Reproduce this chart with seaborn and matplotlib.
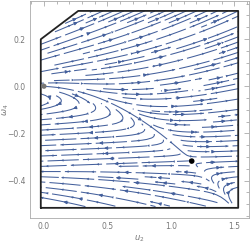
import numpy as np
import matplotlib
matplotlib.use("Agg")
import matplotlib.pyplot as plt
from matplotlib.path import Path
from matplotlib.patches import FancyArrowPatch
import seaborn as sns

# ---- data ----
boundary_u2 = [-0.025, 1.53, 1.53, 0.27, -0.025, -0.025]
boundary_w4 = [-0.515, -0.515, 0.319, 0.319, 0.199, -0.515]
saddle_pt = [1.164, -0.317]        # black point
source_pt = [0.0, 0.0]             # gray point
sep_coef = [-0.020, -0.217]        # stable manifold: w4 = a*u2 + b*u2^2
unstable_slope = 0.02
xticks = [0.0, 0.5, 1.0, 1.5]
yticks = [-0.4, -0.2, 0.0, 0.2]

sns.set_theme(style="white")
plt.rcParams['font.family'] = ['DejaVu Sans']

fig = plt.figure(figsize=(2.5, 2.45), dpi=100)
ax = fig.add_axes([30/250, 1-218/245, 219/250, 217/245])
ax.set_xlim(-0.110, 1.615)
ax.set_ylim(-0.558, 0.361)

# vector field (saddle with curved stable manifold)
xs = np.linspace(min(boundary_u2), max(boundary_u2), 160)
ys = np.linspace(min(boundary_w4), max(boundary_w4), 160)
X, Y = np.meshgrid(xs, ys)
a, b = sep_coef
ysep = a*X + b*X**2
ssep = a + 2*b*X
yun = saddle_pt[1] + unstable_slope*(X - saddle_pt[0])
F1 = Y - ysep
F2 = Y - yun
kap, kap2, lam, mu = 0.6, 0.9, 1.0, 0.2
sig = np.where(F1 > 0, 1.0, np.exp(np.minimum(F1, 0) / 0.06))
U = lam*F1 + mu*F2
V = (lam*F1*(unstable_slope + kap2*np.minimum(F2, 0)*(1 - sig))
     + sig*(lam*F1*kap*F2 + mu*F2*ssep))

poly = Path(np.column_stack([boundary_u2, boundary_w4]))
inside = poly.contains_points(np.column_stack([X.ravel(), Y.ravel()])).reshape(X.shape)
U = np.ma.masked_array(U, mask=~inside)
V = np.ma.masked_array(V, mask=~inside)

col = '#44609c'
sp = ax.streamplot(X, Y, U, V, density=1.3, color=col, linewidth=0.75,
                   arrowsize=0.45, arrowstyle='-|>')

# each entry of the LineCollection is one whole streamline
segs = [np.asarray(s) for s in sp.lines.get_segments()]
sp.lines.remove()

trans = ax.transData
for i, pl in enumerate(segs):
    if len(pl) < 2:
        continue
    ax.plot(pl[:, 0], pl[:, 1], color=col, lw=0.75,
            linestyle=((i * 11) % 34, (30, 4)), solid_capstyle='butt', zorder=2)
    disp = trans.transform(pl)
    acc = 8.0
    for j in range(len(pl) - 1):
        d = np.hypot(*(disp[j + 1] - disp[j]))
        acc += d
        if acc > 24.0 and d > 0:
            ax.add_patch(FancyArrowPatch(tuple(pl[j]), tuple(pl[j + 1]), arrowstyle='-|>',
                                         mutation_scale=4.5, color=col, lw=0,
                                         shrinkA=0, shrinkB=0, zorder=2))
            acc = 0.0

ax.plot(boundary_u2, boundary_w4, color='#222222', lw=1.3, zorder=3)
sns.scatterplot(x=[source_pt[0]], y=[source_pt[1]], color='#777777', s=14, ax=ax, zorder=4, edgecolor='none')
sns.scatterplot(x=[saddle_pt[0]], y=[saddle_pt[1]], color='black', s=16, ax=ax, zorder=4, edgecolor='none')

ax.set_xlim(-0.110, 1.615)
ax.set_ylim(-0.558, 0.361)
ax.set_xticks(xticks)
ax.set_xticklabels([f"{t:.1f}" for t in xticks])
ax.set_yticks(yticks)
ax.set_yticklabels([f"{t:.1f}".replace('-', '\u2212') for t in yticks])
ax.set_xticks(np.arange(-0.1, 1.61, 0.1), minor=True)
ax.set_yticks(np.arange(-0.55, 0.36, 0.05), minor=True)
ax.tick_params(which='both', direction='in', top=True, right=True, color='#999999',
               labelsize=5.5, labelcolor='#777777', width=0.5)
ax.tick_params(which='major', length=3.5, pad=3)
ax.tick_params(which='minor', length=2)
for s in ax.spines.values():
    s.set_color('#aaaaaa'); s.set_linewidth(0.6)
ax.set_xlabel('$u_2$', fontsize=6, color='#777777', labelpad=2)
ax.set_ylabel('$\\omega_4$', fontsize=6, color='#777777')
ax.yaxis.set_label_coords(-0.085, 0.5)

fig.savefig('out.png', dpi=100)
